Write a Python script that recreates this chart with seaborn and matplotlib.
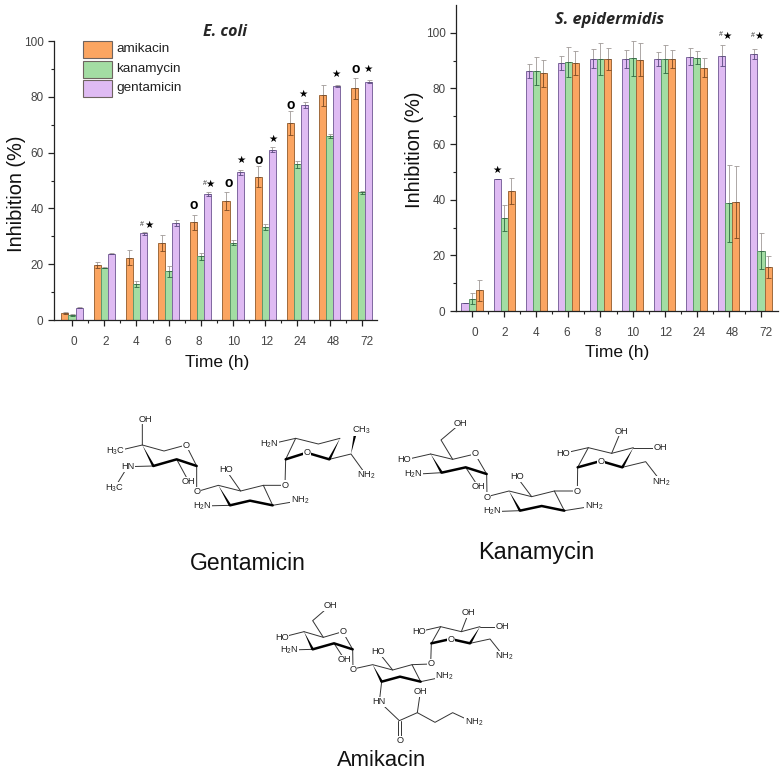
import matplotlib

matplotlib.use("Agg")
import matplotlib.pyplot as plt
import pandas as pd
import seaborn as sns
from matplotlib.patches import Polygon, Rectangle
from matplotlib.transforms import ScaledTranslation

W, H = 781, 771
DPI = 100

HOURS = ["0", "2", "4", "6", "8", "10", "12", "24", "48", "72"]
DRUG_COLORS = {"amikacin": "#FBA561", "kanamycin": "#A3DDA3", "gentamicin": "#DFBBF3"}
DRUG_EDGES = {"amikacin": "#A06A3C", "kanamycin": "#5E9A6C", "gentamicin": "#7F68A0"}
DRUG_ERRS = {"amikacin": "#7A4A22", "kanamycin": "#2F6A42", "gentamicin": "#5A4A80"}

# E. coli panel
ECOLI_AMIKACIN = [2.6, 19.6, 22.4, 27.6, 35.0, 42.8, 51.3, 70.6, 80.5, 83.0]
ECOLI_KANAMYCIN = [1.8, 18.7, 12.8, 17.4, 22.8, 27.7, 33.4, 55.8, 66.0, 45.8]
ECOLI_GENTAMICIN = [4.4, 23.8, 31.1, 34.8, 45.1, 52.9, 61.1, 77.0, 84.0, 85.4]
ECOLI_AMIKACIN_ERR = [0.3, 1.1, 2.6, 2.9, 2.7, 3.2, 3.8, 4.2, 3.8, 3.9]
ECOLI_KANAMYCIN_ERR = [0.2, 0.2, 1.0, 2.0, 1.3, 0.9, 1.0, 1.3, 0.8, 0.5]
ECOLI_GENTAMICIN_ERR = [0.1, 0.1, 0.5, 1.0, 0.8, 1.0, 1.0, 1.1, 0.4, 0.5]

# S. epidermidis panel
EPI_GENTAMICIN = [2.9, 47.5, 86.2, 89.2, 90.7, 90.7, 90.5, 91.4, 91.7, 92.5]
EPI_KANAMYCIN = [4.4, 33.4, 86.2, 89.6, 90.7, 90.8, 90.7, 91.0, 38.7, 21.7]
EPI_AMIKACIN = [7.4, 43.1, 85.5, 89.1, 90.7, 90.4, 90.7, 87.5, 39.3, 15.7]
EPI_GENTAMICIN_ERR = [0.0, 0.0, 2.6, 2.4, 3.5, 3.2, 2.6, 3.1, 3.8, 1.8]
EPI_KANAMYCIN_ERR = [2.0, 4.6, 5.0, 5.4, 5.8, 6.3, 5.1, 2.3, 13.8, 6.5]
EPI_AMIKACIN_ERR = [3.9, 4.8, 4.8, 4.2, 3.9, 6.0, 3.3, 3.5, 13.0, 4.0]

# significance marks: (label, group position, height in % inhibition)
ECOLI_MARKS = [
    ("★", 2.39, 33.9), ("#", 2.18, 34.2),
    ("★", 4.29, 48.8), ("#", 4.12, 49.0),
    ("★", 5.26, 57.4), ("★", 6.25, 64.9), ("★", 7.18, 80.9), ("★", 8.19, 88.3), ("★", 9.20, 89.9),
    ("o", 3.77, 41.2), ("o", 4.85, 49.0), ("o", 5.79, 57.2), ("o", 6.78, 76.9), ("o", 8.81, 89.9),
]
EPI_MARKS = [
    ("★", 0.77, 50.8),
    ("★", 7.93, 98.9), ("#", 7.74, 99.3),
    ("★", 8.94, 98.7), ("#", 8.75, 99.1),
]

# drawn label shift per tick, the two panels were pasted in slightly stretched
ECOLI_LABEL_SHIFT = [1.7, 1.3, 0, -1.3, -1.7, 0.3, 1.7, 2.3, 4, 5.3]
EPI_LABEL_SHIFT = [2.7, 1, 0, -1.3, -2.3, 0, 1.3, 2, 3.3, 5.3]

plt.rcParams["mathtext.default"] = "regular"
sns.set_style("ticks")
plt.rcParams["font.family"] = ["Liberation Sans", "DejaVu Sans"]


def panel_axes(fig, left, right, top, bottom):
    return fig.add_axes([left / W, 1 - bottom / H, (right - left) / W, (bottom - top) / H])


def draw_panel(ax, values, errors, order, xlim, ylim, shifts):
    frame = pd.concat(
        [pd.DataFrame({"time": HOURS, "inhibition": values[d], "drug": d}) for d in order]
    )
    sns.barplot(
        data=frame, x="time", y="inhibition", hue="drug", order=HOURS, hue_order=order,
        palette=DRUG_COLORS, saturation=1, width=0.66, errorbar=None, legend=False, ax=ax, linewidth=0.7,
    )
    for drug, bars in zip(order, ax.containers):
        for bar in bars:
            bar.set_edgecolor(DRUG_EDGES[drug])
        xs = [b.get_x() + b.get_width() / 2 for b in bars]
        none = [0] * len(xs)
        # caps and stems read darker over the bar than above it
        ax.errorbar(
            xs, values[drug], yerr=[none, errors[drug]], fmt="none", ecolor="#A09A98",
            elinewidth=0.6, capsize=1.8, capthick=0.6, zorder=4,
        )
        ax.errorbar(
            xs, values[drug], yerr=[errors[drug], none], fmt="none", ecolor=DRUG_ERRS[drug],
            elinewidth=0.6, capsize=1.8, capthick=0.6, zorder=4,
        )

    ax.set_xlim(*xlim)
    ax.set_ylim(*ylim)
    ax.set_yticks(range(0, 101, 20))
    ax.set_yticks(range(10, 101, 20), minor=True)
    ax.set_xticks(range(len(HOURS)), HOURS)
    ax.set_xticks([i + 0.5 for i in range(len(HOURS) - 1)], minor=True)
    ax.set_xlabel("")
    ax.set_ylabel("")
    ax.tick_params(axis="both", which="major", length=4, width=0.9, color="#222222", labelcolor="#444444", labelsize=8.5)
    ax.tick_params(axis="both", which="minor", length=2.2, width=0.8, color="#222222")
    ax.tick_params(axis="x", which="major", pad=7.5)
    for label, shift in zip(ax.get_xticklabels(), shifts):
        label.set_transform(label.get_transform() + ScaledTranslation(shift / DPI, 0, ax.figure.dpi_scale_trans))
    sns.despine(ax=ax)
    for side in ("left", "bottom"):
        ax.spines[side].set_linewidth(0.9)
        ax.spines[side].set_color("#222222")
    ax.patch.set_alpha(0)


def draw_marks(ax, marks):
    for label, x, y in marks:
        if label == "★":
            ax.text(x, y, label, ha="center", va="center", fontsize=7.5, color="black", family="DejaVu Sans")
        elif label == "#":
            ax.text(x, y, label, ha="center", va="center", fontsize=5, color="#333333")
        else:
            ax.text(x, y, label, ha="center", va="center", fontsize=10, fontweight="bold", color="black")


def draw_molecule(ax, origin, thin, bold, wedges, atoms, double=()):
    ox, oy = origin
    conv = lambda p: (ox + p[0] / 3, oy + p[1] / 3)
    for path in thin:
        pts = [conv(p) for p in path]
        ax.plot(*zip(*pts), color="#333333", lw=0.7, solid_capstyle="round", zorder=2)
    for path in bold:
        pts = [conv(p) for p in path]
        ax.plot(*zip(*pts), color="black", lw=1.8, solid_capstyle="round", solid_joinstyle="round", zorder=2)
    for tip, end in wedges:
        (x0, y0), (x1, y1) = conv(tip), conv(end)
        dx, dy = x1 - x0, y1 - y0
        norm = (dx * dx + dy * dy) ** 0.5
        nx, ny = -dy / norm * 1.3, dx / norm * 1.3
        ax.add_patch(Polygon([(x0, y0), (x1 + nx, y1 + ny), (x1 - nx, y1 - ny)], color="black", lw=0, zorder=2))
    for path in double:
        pts = [conv(p) for p in path]
        ax.plot(*zip(*pts), color="#333333", lw=0.7, zorder=2)
    for text, (x, y) in atoms:
        px, py = conv((x, y))
        ax.text(
            px, py, text, ha="center", va="center", fontsize=6.7, color="#222222", zorder=3,
            bbox=dict(facecolor="white", edgecolor="none", pad=0.3),
        )


GENTAMICIN_THIN = [
    [(157, 120), (157, 195), (222, 213), (288, 195), (320, 258), (320, 335), (385, 316), (452, 333), (520, 316), (585, 316), (587, 238), (617, 175), (685, 192), (750, 175)],
    [(157, 195), (85, 212)], [(190, 258), (113, 260), (73, 325)], [(260, 238), (298, 308)],
    [(420, 376), (337, 378)], [(548, 376), (520, 316)], [(548, 376), (630, 362)], [(452, 333), (408, 270)],
    [(617, 175), (538, 193)], [(718, 238), (783, 222), (830, 287)],
]
GENTAMICIN_BOLD = [
    [(320, 258), (260, 238), (190, 258)], [(548, 376), (480, 362), (420, 376)],
    [(587, 238), (650, 218)], [(650, 218), (718, 238)],
]
GENTAMICIN_WEDGES = [
    ((157, 195), (190, 258)), ((385, 316), (420, 376)), ((750, 175), (718, 238)), ((783, 222), (795, 165)),
]
GENTAMICIN_ATOMS = [
    ("OH", (165, 118)), ("H$_3$C", (75, 215)), ("O", (288, 195)), ("HN", (113, 260)), ("H$_3$C", (73, 325)),
    ("OH", (296, 306)), ("O", (320, 335)), ("HO", (408, 270)), ("H$_2$N", (337, 378)), ("NH$_2$", (630, 362)),
    ("O", (585, 316)), ("H$_2$N", (538, 193)), ("O", (650, 218)), ("CH$_3$", (813, 150)), ("NH$_2$", (830, 287)),
]

KANAMYCIN_THIN = [
    [(137, 222), (203, 238), (270, 222), (305, 282), (306, 350), (372, 333), (440, 350), (508, 333), (577, 333), (578, 262), (610, 203), (680, 220), (745, 203)],
    [(203, 238), (168, 180), (227, 130)], [(137, 222), (58, 240)], [(170, 278), (85, 283)], [(242, 262), (282, 323)],
    [(508, 333), (538, 392), (627, 378)], [(440, 350), (395, 290)], [(405, 392), (322, 395)],
    [(610, 203), (535, 220)], [(680, 220), (708, 153)], [(745, 203), (827, 203)], [(712, 262), (782, 245), (830, 307)],
]
KANAMYCIN_BOLD = [
    [(305, 282), (242, 262), (170, 278)], [(538, 392), (470, 378), (405, 392)],
    [(578, 262), (647, 243)], [(647, 243), (712, 262)],
]
KANAMYCIN_WEDGES = [((137, 222), (170, 278)), ((372, 333), (405, 392)), ((745, 203), (712, 262))]
KANAMYCIN_ATOMS = [
    ("OH", (227, 130)), ("O", (270, 222)), ("HO", (58, 240)), ("H$_2$N", (85, 283)), ("OH", (280, 320)),
    ("O", (306, 352)), ("HO", (395, 290)), ("H$_2$N", (322, 395)), ("NH$_2$", (627, 378)), ("O", (577, 333)),
    ("HO", (535, 220)), ("OH", (708, 153)), ("OH", (827, 203)), ("O", (647, 243)), ("NH$_2$", (830, 307)),
]

AMIKACIN_THIN = [
    [(132, 125), (190, 142), (248, 125), (278, 178), (279, 237), (338, 224), (398, 240), (456, 224), (512, 222), (514, 160), (542, 110), (604, 125), (660, 110)],
    [(190, 142), (158, 92), (210, 47)], [(132, 125), (65, 142)], [(158, 178), (87, 180)], [(222, 160), (256, 212)],
    [(456, 224), (482, 275), (553, 260)], [(398, 240), (355, 186)], [(542, 110), (477, 125)], [(604, 125), (626, 68)],
    [(660, 110), (728, 110)], [(630, 160), (690, 147), (732, 200)],
    [(365, 275), (358, 335), (418, 392), (472, 368), (525, 397), (578, 368), (642, 398)], [(472, 368), (481, 306)],
]
AMIKACIN_BOLD = [
    [(278, 178), (222, 160), (158, 178)], [(482, 275), (420, 260), (365, 275)],
    [(514, 160), (572, 147)], [(572, 147), (630, 160)],
]
AMIKACIN_WEDGES = [((132, 125), (158, 178)), ((338, 224), (365, 275)), ((660, 110), (630, 160))]
AMIKACIN_DOUBLE = [[(415, 392), (415, 440)], [(422, 392), (422, 440)]]
AMIKACIN_ATOMS = [
    ("OH", (210, 47)), ("O", (248, 125)), ("HO", (65, 142)), ("H$_2$N", (87, 180)), ("OH", (254, 210)),
    ("O", (280, 240)), ("HO", (355, 186)), ("NH$_2$", (553, 260)), ("O", (512, 222)), ("HO", (477, 125)),
    ("OH", (626, 68)), ("OH", (728, 110)), ("O", (572, 147)), ("NH$_2$", (732, 200)), ("HN", (358, 335)),
    ("OH", (481, 306)), ("NH$_2$", (642, 398)), ("O", (420, 452)),
]

fig = plt.figure(figsize=(W / DPI, H / DPI), dpi=DPI, facecolor="white")

# E. coli
ax_left = panel_axes(fig, 54, 377, 41, 320)
draw_panel(
    ax_left,
    {"amikacin": ECOLI_AMIKACIN, "kanamycin": ECOLI_KANAMYCIN, "gentamicin": ECOLI_GENTAMICIN},
    {"amikacin": ECOLI_AMIKACIN_ERR, "kanamycin": ECOLI_KANAMYCIN_ERR, "gentamicin": ECOLI_GENTAMICIN_ERR},
    ["amikacin", "kanamycin", "gentamicin"],
    (-0.56, 9.47), (0, 100), ECOLI_LABEL_SHIFT,
)
draw_marks(ax_left, ECOLI_MARKS)

# S. epidermidis
ax_right = panel_axes(fig, 456, 778, 5, 311)
draw_panel(
    ax_right,
    {"amikacin": EPI_AMIKACIN, "kanamycin": EPI_KANAMYCIN, "gentamicin": EPI_GENTAMICIN},
    {"amikacin": EPI_AMIKACIN_ERR, "kanamycin": EPI_KANAMYCIN_ERR, "gentamicin": EPI_GENTAMICIN_ERR},
    ["gentamicin", "kanamycin", "amikacin"],
    (-0.5, 9.53), (0, 110), EPI_LABEL_SHIFT,
)
draw_marks(ax_right, EPI_MARKS)

# everything positioned by pixel goes on a full-figure overlay
over = fig.add_axes([0, 0, 1, 1], facecolor="none")
over.set_xlim(0, W)
over.set_ylim(H, 0)
over.axis("off")

# legend swatches with the drug names
for i, (drug, color) in enumerate(DRUG_COLORS.items()):
    over.add_patch(Rectangle((82.5, 41 + i * 19.5), 29.5, 17, facecolor=color, edgecolor="#6E6460", lw=0.8))
    over.text(116, 49.5 + i * 19.5, drug, ha="left", va="center", fontsize=9.7, color="#222222")

over.text(225, 32, "E. coli", ha="center", va="center", fontsize=11.5, fontweight="bold", fontstyle="italic", family="Open Sans")
over.text(610, 20, "S. epidermidis", ha="center", va="center", fontsize=11.8, fontweight="bold", fontstyle="italic", family="Open Sans")

over.text(217, 362, "Time (h)", ha="center", va="center", fontsize=12.5, color="#111111")
over.text(617, 353, "Time (h)", ha="center", va="center", fontsize=12.5, color="#111111")
over.text(17, 194, "Inhibition (%)", ha="center", va="center", rotation=90, fontsize=14.4, color="#111111")
over.text(415, 150, "Inhibition (%)", ha="center", va="center", rotation=90, fontsize=14.4, color="#111111")

draw_molecule(over, (90, 380), GENTAMICIN_THIN, GENTAMICIN_BOLD, GENTAMICIN_WEDGES, GENTAMICIN_ATOMS)
draw_molecule(over, (385, 380), KANAMYCIN_THIN, KANAMYCIN_BOLD, KANAMYCIN_WEDGES, KANAMYCIN_ATOMS)
draw_molecule(over, (260, 590), AMIKACIN_THIN, AMIKACIN_BOLD, AMIKACIN_WEDGES, AMIKACIN_ATOMS, AMIKACIN_DOUBLE)

over.text(248, 563, "Gentamicin", ha="center", va="center", fontsize=16.5, color="#111111")
over.text(536, 553, "Kanamycin", ha="center", va="center", fontsize=16.9, color="#111111")
over.text(382, 760, "Amikacin", ha="center", va="center", fontsize=15.8, color="#111111")

fig.savefig("out.png", dpi=DPI)
